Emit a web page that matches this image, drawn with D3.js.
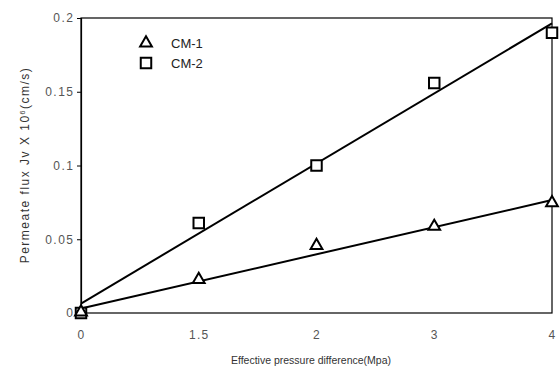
<!DOCTYPE html>
<html>
<head>
<meta charset="utf-8">
<script src="https://cdn.jsdelivr.net/npm/d3@7"></script>
<style>
  html, body { margin: 0; padding: 0; background: #fff; }
  svg { display: block; font-family: "Liberation Sans", Arial, sans-serif; }
</style>
</head>
<body>
<svg id="chart" width="560" height="379"></svg>
<script>
// Pressure steps (MPa), plotted as evenly spaced categories
const pressures = ["0", "1.5", "2", "3", "4"];
// Permeate flux values for each membrane
const cm1 = [0, 0.022, 0.045, 0.058, 0.074];
const cm2 = [0, 0.061, 0.100, 0.156, 0.190];
const seriesNames = ["CM-1", "CM-2"];
const yTicks = [0, 0.05, 0.1, 0.15, 0.2];
const yTickLabels = ["0", "0.05", "0.1", "0.15", "0.2"];

const svg = d3.select("#chart");
const margin = { left: 81, top: 18, right: 8, bottom: 66 };
const W = 560, H = 379;
const x0 = margin.left, x1 = W - margin.right;
const y0 = H - margin.bottom, y1 = margin.top;

const x = d3.scalePoint().domain(pressures).range([x0, x1]).padding(0);
const xi = d3.scaleLinear().domain([0, pressures.length - 1]).range([x0, x1]);
const y = d3.scaleLinear().domain([0, 0.2]).range([y0, y1]);

// Plot frame
svg.append("rect")
  .attr("x", x0).attr("y", y1)
  .attr("width", x1 - x0).attr("height", y0 - y1)
  .attr("fill", "none").attr("stroke", "#000").attr("stroke-width", 1.2);

// Y axis with outward ticks
const yAxis = d3.axisLeft(y).tickValues(yTicks)
  .tickFormat((d, i) => yTickLabels[i]).tickSize(4).tickPadding(4);
const gy = svg.append("g").attr("transform", `translate(${x0},0)`).call(yAxis);
gy.select(".domain").attr("stroke", "#000").attr("stroke-width", 1.2);
gy.selectAll(".tick line").attr("stroke", "#000");
gy.selectAll(".tick text").attr("fill", "#555").attr("font-size", 12)
  .attr("letter-spacing", 1.5).attr("dx", 1.5);

// X axis labels only
const xAxis = d3.axisBottom(x).tickSize(0).tickPadding(17);
const gx = svg.append("g").attr("transform", `translate(0,${y0})`).call(xAxis);
gx.select(".domain").remove();
gx.selectAll(".tick text").attr("fill", "#555").attr("font-size", 12)
  .attr("letter-spacing", 1.2);

// Axis titles
svg.append("text")
  .attr("x", 311).attr("y", 364)
  .attr("text-anchor", "middle").attr("font-size", 10.5).attr("fill", "#333")
  .text("Effective pressure difference(Mpa)");

const yt = svg.append("text")
  .attr("transform", `translate(29,165) rotate(-90)`)
  .attr("text-anchor", "middle").attr("font-size", 12).attr("fill", "#333")
  .attr("letter-spacing", 1.5);
yt.append("tspan").text("Permeate flux Jv X 10");
yt.append("tspan").attr("dy", -4).attr("font-size", 7).text("6");
yt.append("tspan").attr("dy", 4).text("(cm/s)");

// Least-squares trend line over category index
function fit(vals) {
  const n = vals.length;
  const xs = d3.range(n);
  const mx = d3.mean(xs), my = d3.mean(vals);
  let sxy = 0, sxx = 0;
  xs.forEach((xv, i) => { sxy += (xv - mx) * (vals[i] - my); sxx += (xv - mx) ** 2; });
  const b = sxy / sxx, a = my - b * mx;
  return [[0, a], [n - 1, a + b * (n - 1)]];
}
const line = d3.line().x(d => xi(d[0])).y(d => y(d[1]));
[cm1, cm2].forEach(vals => {
  svg.append("path").datum(fit(vals))
    .attr("d", line).attr("fill", "none")
    .attr("stroke", "#000").attr("stroke-width", 2);
});

// Markers
const tri = d3.symbol().type(d3.symbolTriangle).size(60);
const sq = d3.symbol().type(d3.symbolSquare).size(110);
function drawMarkers(vals, gen, dy) {
  svg.append("g").selectAll("path").data(vals).join("path")
    .attr("d", gen)
    .attr("transform", (d, i) => `translate(${x(pressures[i])},${y(d) + dy})`)
    .attr("fill", "#fff").attr("stroke", "#000").attr("stroke-width", 2);
}
drawMarkers(cm2, sq, 0);
drawMarkers(cm1, tri, -1);

// Legend
const legend = svg.append("g");
[[tri, seriesNames[0], 43], [sq, seriesNames[1], 63]].forEach(([gen, name, ly]) => {
  legend.append("path").attr("d", gen())
    .attr("transform", `translate(146,${ly})`)
    .attr("fill", "#fff").attr("stroke", "#000").attr("stroke-width", 2);
  legend.append("text").attr("x", 171).attr("y", ly + 5)
    .attr("font-size", 13).attr("fill", "#222").text(name);
});
</script>
</body>
</html>
